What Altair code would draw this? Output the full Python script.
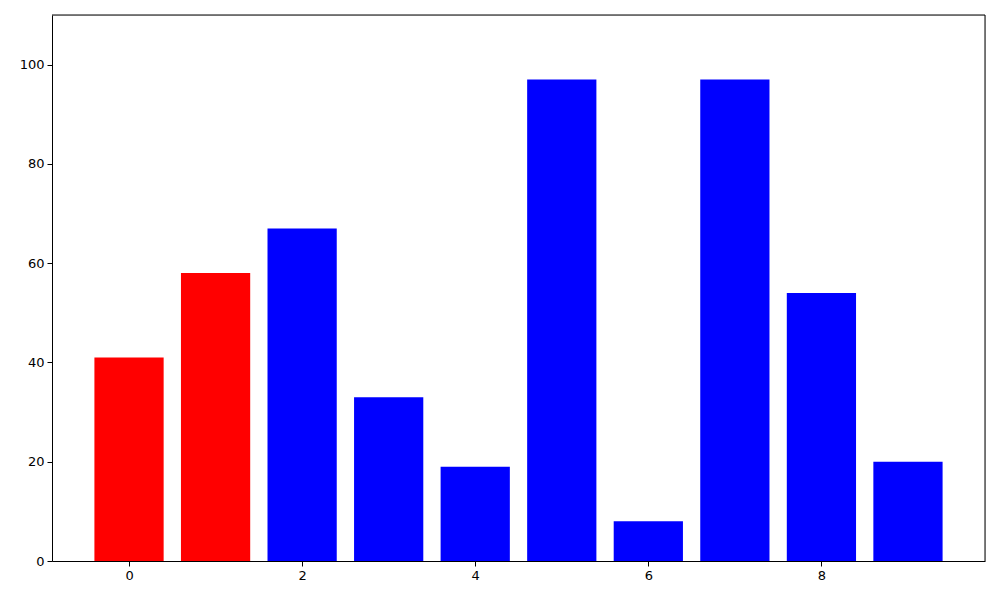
import altair as alt
import pandas as pd

categories = [0, 1, 2, 3, 4, 5, 6, 7, 8, 9]
values = [41, 58, 67, 33, 19, 97, 8, 97, 54, 20]
colors = ["red", "red", "blue", "blue", "blue", "blue", "blue", "blue", "blue", "blue"]
x_ticks = [0, 2, 4, 6, 8]
y_ticks = [0, 20, 40, 60, 80, 100]

W, H = 933, 546

df = pd.DataFrame({"cat": categories, "value": values, "color": colors})
df["x0"] = df["cat"] - 0.4
df["x1"] = df["cat"] + 0.4

bars = alt.Chart(df).mark_bar(stroke=None).encode(
    x=alt.X("x0:Q", scale=alt.Scale(domain=[-0.89, 9.89], nice=False, zero=False),
            axis=alt.Axis(values=x_ticks, title=None, grid=False, format="d",
                          labelFont="DejaVu Sans", labelFontSize=13, labelColor="black",
                          tickColor="black", tickSize=5, domainColor="black", labelPadding=3)),
    x2="x1:Q",
    y=alt.Y("value:Q", scale=alt.Scale(domain=[0, 110], nice=False),
            axis=alt.Axis(values=y_ticks, title=None, grid=False,
                          labelFont="DejaVu Sans", labelFontSize=13, labelColor="black",
                          tickColor="black", tickSize=5, domainColor="black", labelPadding=3)),
    y2=alt.datum(0),
    color=alt.Color("color:N", scale=None),
)

frame_df = pd.DataFrame({"k": [0]})
top = alt.Chart(frame_df).mark_rule(color="black", strokeWidth=1).encode(
    x=alt.value(0), x2=alt.value(W), y=alt.value(0)
)
right = alt.Chart(frame_df).mark_rule(color="black", strokeWidth=1).encode(
    x=alt.value(W), y=alt.value(0), y2=alt.value(H)
)

chart = alt.layer(bars, top, right).properties(
    width=W, height=H,
    autosize=alt.AutoSizeParams(type="none"),
    padding={"left": 44, "top": 7, "right": 7, "bottom": 30},
).configure_view(stroke="black", strokeWidth=1).configure(background="white")

chart.save("out.html", embed_options={"renderer": "svg", "actions": False})
